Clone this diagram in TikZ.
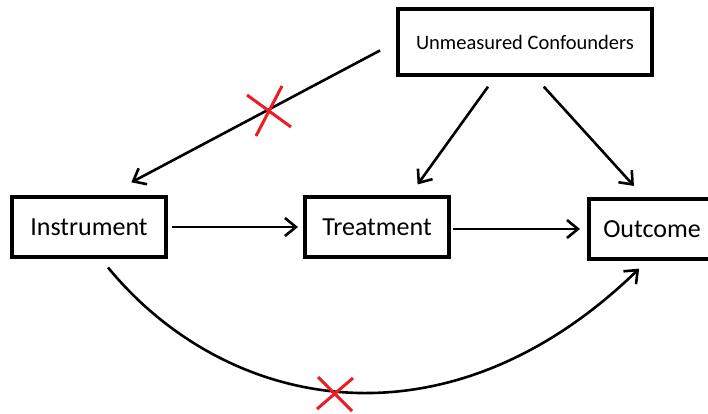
\documentclass[tikz,border=0pt]{standalone}
\usepackage{fontspec}
\setmainfont{Carlito}
\usetikzlibrary{arrows.meta}
\definecolor{cutred}{RGB}{237,28,36}

\begin{document}
\begin{tikzpicture}[x=1pt,y=-1pt]
  \tikzstyle{box}=[rectangle,draw,line width=4pt,font=\fontsize{26}{30}\selectfont]
  \tikzstyle{arr}=[line width=2.6pt,-{Straight Barb[length=11pt,width=18pt]}]
  \tikzstyle{cut}=[draw=cutred,line width=3pt]
  \useasboundingbox (0,0) rectangle (708,413);
  \node[box,minimum width=254pt,minimum height=66pt,font=\fontsize{20.5}{24}\selectfont] (conf) at (525,42) {Unmeasured Confounders};
  \node[box,minimum width=154pt,minimum height=60pt] (instr) at (89,227) {Instrument};
  \node[box,minimum width=144pt,minimum height=60pt] (treat) at (377,227) {Treatment};
  \node[box,minimum width=126pt,minimum height=60pt] (outc) at (652,229) {Outcome};
  \draw[arr,shorten <=18pt,shorten >=27pt] (conf.west) -- (instr.60);
  \draw[arr,shorten <=12pt,shorten >=13pt] ([xshift=-30pt]conf.south) -- ([xshift=33pt]treat.north);
  \draw[arr,shorten <=13pt,shorten >=15pt] ([xshift=10pt]conf.south) -- ([xshift=-8pt]outc.north);
  \draw[arr,shorten <=4pt,shorten >=5pt] (instr.east) -- (treat.west);
  \draw[arr,shorten <=2pt,shorten >=7pt] ([yshift=-2pt]treat.east) -- (outc.west);
  \draw[arr,shorten <=11pt,shorten >=11pt] ([xshift=12pt]instr.south)
    .. controls +(126,153) and +(-200,194) .. ([xshift=-5pt]outc.south);
  % the two cuts
  \coordinate (cut1) at (269,111);
  \coordinate (cut2) at (335,394);
  \draw[cut] ([shift={(-22,-16)}]cut1) -- ([shift={(22,16)}]cut1)
    ([shift={(13,-25)}]cut1) -- ([shift={(-13,25)}]cut1);
  \draw[cut] ([shift={(-17,-17)}]cut2) -- ([shift={(17,17)}]cut2)
    ([shift={(18,-16)}]cut2) -- ([shift={(-18,15)}]cut2);
\end{tikzpicture}
\end{document}
